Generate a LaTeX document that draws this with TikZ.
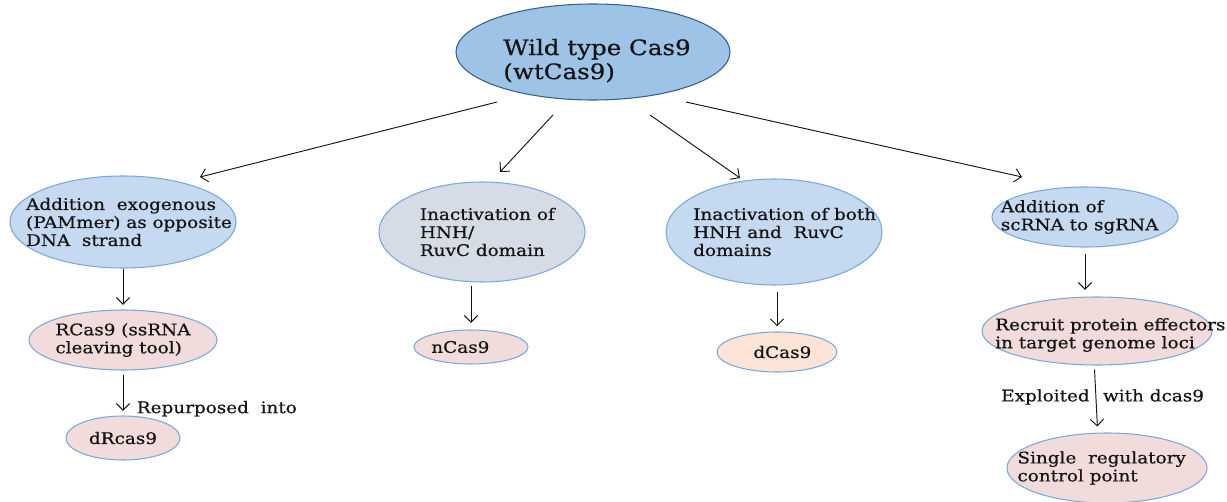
\documentclass[tikz,border=0pt]{standalone}
\usepackage{fontspec}
\setmainfont[FakeStretch=1.15,FakeBold=0.6]{DejaVu Serif}
\usetikzlibrary{shapes.geometric,arrows.meta,calc}
\definecolor{mainfill}{HTML}{9DC3E6}
\definecolor{mainborder}{HTML}{3A5F8F}
\definecolor{bluefill}{HTML}{C5D9F1}
\definecolor{bordblue}{HTML}{7AA8DC}
\definecolor{grayfill}{HTML}{D6DCE5}
\definecolor{pinkfill}{HTML}{F2DCDB}
\definecolor{peachfill}{HTML}{FBE4D5}
\definecolor{ink}{HTML}{141414}
\tikzset{
  sz/.style 2 args={minimum width=#1*0.75pt, minimum height=#2*0.75pt},
  ell/.style={ellipse, draw=bordblue, line width=0.8pt, inner sep=0pt},
  mainbox/.style={ell, fill=mainfill, draw=mainborder},
  bluebox/.style={ell, fill=bluefill},
  graybox/.style={ell, fill=grayfill},
  pinkbox/.style={ell, fill=pinkfill},
  peachbox/.style={ell, fill=peachfill},
  txt/.style={align=left, text=ink, inner sep=0pt, font=\fontsize{12}{13.5}\selectfont},
  bigtxt/.style={align=left, text=ink, inner sep=0pt, font=\fontsize{16}{18}\selectfont},
  arr/.style={draw=ink, line width=0.7pt, -{Straight Barb[length=5pt,width=10pt]}}
}
\begin{document}
\begin{tikzpicture}[x=0.75pt,y=-0.75pt]
\useasboundingbox (0,0) rectangle (1227,502);
% nodes
\node[mainbox, sz={274}{96}, label={[bigtxt, xshift=3pt, yshift=-6.5pt]center:{Wild type Cas9\\(wtCas9)}}] (main) at (593,52) {};
\node[bluebox, sz={226}{92}, label={[txt, xshift=4.5pt]center:{Addition\ \ exogenous\\(PAMmer) as opposite\\DNA\ \ strand}}] (A) at (123,222) {};
\node[pinkbox, sz={188}{60}, label={[txt]center:{RCas9 (ssRNA\\cleaving tool)}}] (R) at (123,340) {};
\node[pinkbox, sz={114}{44}, label={[txt]center:{dRcas9}}] (dR) at (123,438) {};
\node[graybox, sz={206}{100}, label={[txt, xshift=4pt]center:{Inactivation of\\HNH/\\RuvC domain}}] (B) at (482,232) {};
\node[pinkbox, sz={114}{34}, label={[txt, xshift=-8pt]center:{nCas9}}] (n) at (471,347) {};
\node[bluebox, sz={216}{106}, label={[txt, xshift=8pt]center:{Inactivation of both\\HNH and\ \ RuvC\\domains}}] (C) at (774,232) {};
\node[peachbox, sz={120}{40}, label={[txt, xshift=4pt]center:{dCas9}}] (d) at (777,352) {};
\node[bluebox, sz={186}{60}, label={[txt, xshift=-4pt]center:{Addition of\\scRNA to sgRNA}}] (D) at (1085,217) {};
\node[pinkbox, sz={230}{68}, label={[txt, xshift=10pt, yshift=-3pt]center:{Recruit protein effectors\\in target genome loci}}] (Rec) at (1097,331) {};
\node[pinkbox, sz={200}{70}, label={[txt, xshift=-4pt]center:{Single\ \ regulatory\\control point}}] (S) at (1107,468) {};
% connector ends, placed from the nodes
\path (main.center) ++(-96,50) coordinate (s1)  (A.center) ++(77,-45) coordinate (t1);
\path (main.center) ++(-40,63) coordinate (s2)  (B.center) ++(18,-60) coordinate (t2);
\path (main.center) ++(57,63) coordinate (s3)   (C.center) ++(-34,-54) coordinate (t3);
\path (main.center) ++(93,50) coordinate (s4)   (D.center) ++(-63,-40) coordinate (t4);
% top connectors
\draw[arr] (s1) -- (t1);
\draw[arr] (s2) -- (t2);
\draw[arr] (s3) -- (t3);
\draw[arr] (s4) -- (t4);
% vertical connectors
\draw[arr, shorten >=3.5pt] (A.south) -- (R.north);
\draw[arr, shorten <=3pt, shorten >=3.5pt] (R.south) -- node[txt, right=10pt, pos=0.85]{Repurposed\ \ into} (dR.north);
\draw[arr, shorten <=2.5pt, shorten >=5pt] (n.north |- B.south) -- (n.north);
\draw[arr, shorten <=5pt, shorten >=4pt] (d.north |- C.south) -- (d.north);
\draw[arr, shorten <=4.5pt, shorten >=5pt] (D.south) -- (D.south |- Rec.north);
\draw[arr, shorten <=3pt, shorten >=4.5pt] ([xshift=-2pt]Rec.south) -- node[txt, pos=0.47, xshift=5pt]{Exploited\hspace{10pt}with dcas9} ([xshift=-7pt]S.north);
\end{tikzpicture}
\end{document}
